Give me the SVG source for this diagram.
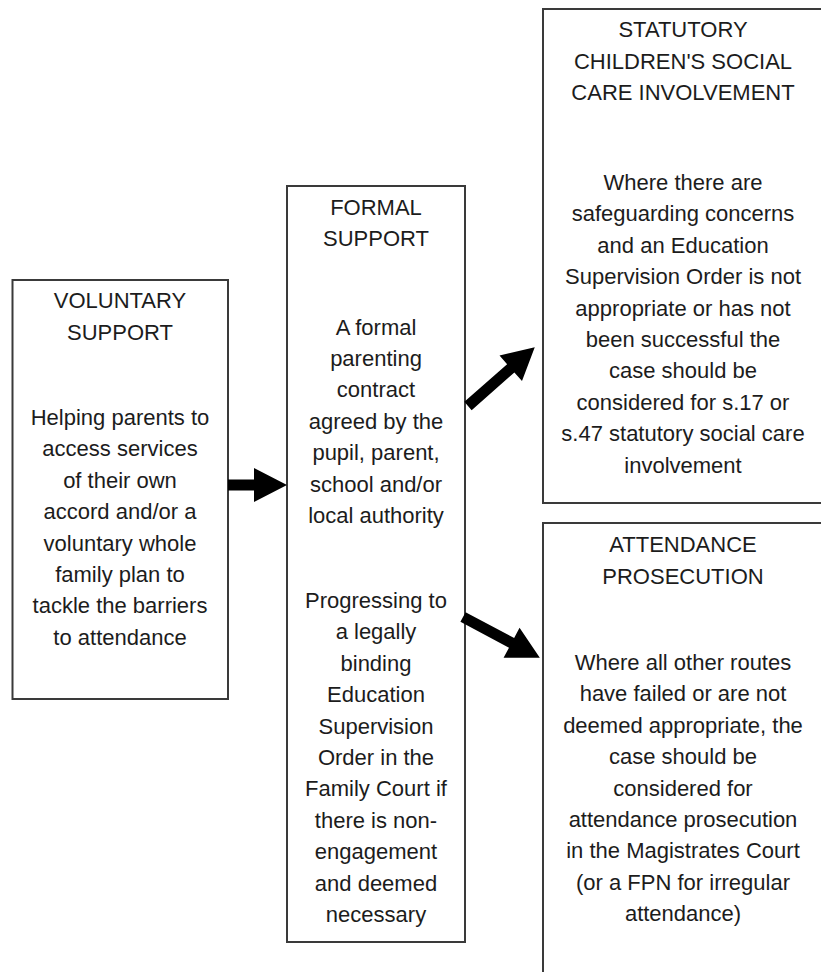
<svg xmlns="http://www.w3.org/2000/svg" width="821" height="972" viewBox="0 0 821 972">
<style>
.box{fill:#fff;stroke:#3a3a3a;stroke-width:2}
text{font-family:"Liberation Sans",Arial,sans-serif;font-size:22px;fill:#1c1c1c;text-anchor:middle}
.arrow{fill:#000}
</style>
<rect width="821" height="972" fill="#fff"/>
<g id="voluntary">
<rect class="box" x="12.5" y="280" width="215.5" height="419"/>
<text x="120" y="308">VOLUNTARY</text>
<text x="120" y="340">SUPPORT</text>
<text x="120" y="425">Helping parents to</text>
<text x="120" y="456.4">access services</text>
<text x="120" y="487.8">of their own</text>
<text x="120" y="519.2">accord and/or a</text>
<text x="120" y="550.6">voluntary whole</text>
<text x="120" y="582">family plan to</text>
<text x="120" y="613.4">tackle the barriers</text>
<text x="120" y="644.8">to attendance</text>
</g>
<g id="formal">
<rect class="box" x="287" y="186" width="178" height="756"/>
<text x="376" y="215">FORMAL</text>
<text x="376" y="246">SUPPORT</text>
<text x="376" y="334.6">A formal</text>
<text x="376" y="366">parenting</text>
<text x="376" y="397.4">contract</text>
<text x="376" y="428.8">agreed by the</text>
<text x="376" y="460.2">pupil, parent,</text>
<text x="376" y="491.6">school and/or</text>
<text x="376" y="523">local authority</text>
<text x="376" y="608">Progressing to</text>
<text x="376" y="639.4">a legally</text>
<text x="376" y="670.8">binding</text>
<text x="376" y="702.2">Education</text>
<text x="376" y="733.6">Supervision</text>
<text x="376" y="765">Order in the</text>
<text x="376" y="796.4">Family Court if</text>
<text x="376" y="827.8">there is non-</text>
<text x="376" y="859.2">engagement</text>
<text x="376" y="890.6">and deemed</text>
<text x="376" y="922">necessary</text>
</g>
<g id="statutory">
<rect class="box" x="543" y="9" width="282" height="494"/>
<text x="683" y="37">STATUTORY</text>
<text x="683" y="68.5">CHILDREN'S SOCIAL</text>
<text x="683" y="100">CARE INVOLVEMENT</text>
<text x="683" y="190">Where there are</text>
<text x="683" y="221.4">safeguarding concerns</text>
<text x="683" y="252.8">and an Education</text>
<text x="683" y="284.2">Supervision Order is not</text>
<text x="683" y="315.6">appropriate or has not</text>
<text x="683" y="347">been successful the</text>
<text x="683" y="378.4">case should be</text>
<text x="683" y="409.8">considered for s.17 or</text>
<text x="683" y="441.2">s.47 statutory social care</text>
<text x="683" y="472.6">involvement</text>
</g>
<g id="prosecution">
<rect class="box" x="543" y="523" width="282" height="460"/>
<text x="683" y="552">ATTENDANCE</text>
<text x="683" y="583.5">PROSECUTION</text>
<text x="683" y="670">Where all other routes</text>
<text x="683" y="701.4">have failed or are not</text>
<text x="683" y="732.8">deemed appropriate, the</text>
<text x="683" y="764.2">case should be</text>
<text x="683" y="795.6">considered for</text>
<text x="683" y="827">attendance prosecution</text>
<text x="683" y="858.4">in the Magistrates Court</text>
<text x="683" y="889.8">(or a FPN for irregular</text>
<text x="683" y="921.2">attendance)</text>
</g>
<g id="connectors">
<path class="arrow" transform="translate(228,485)" d="M0,-5.5 H26 V-17 L59,0 L26,17 V5.5 H0 Z"/>
<path class="arrow" transform="translate(468,406) rotate(-41.4)" d="M0,-5.5 H57 V-17 L89,0 L57,17 V5.5 H0 Z"/>
<path class="arrow" transform="translate(463,617) rotate(28)" d="M0,-5.5 H55 V-17 L87,0 L55,17 V5.5 H0 Z"/>
</g>
</svg>
